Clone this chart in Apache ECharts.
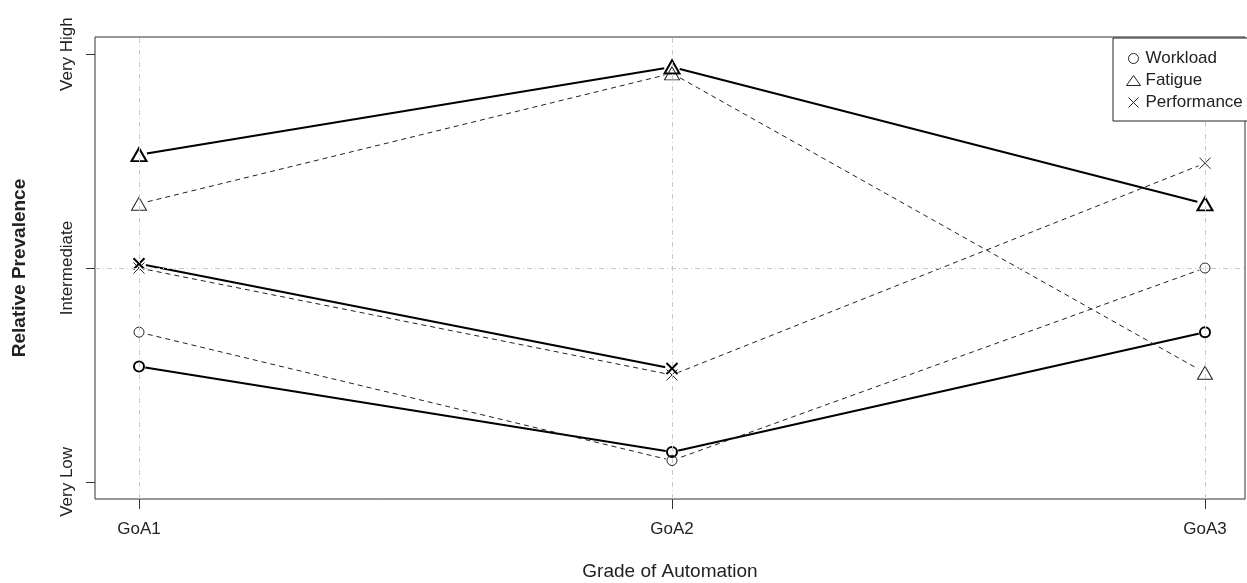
<!DOCTYPE html>
<html>
<head>
<meta charset="utf-8">
<script src="https://cdn.jsdelivr.net/npm/echarts@6/dist/echarts.min.js"></script>
<style>html,body{margin:0;padding:0;background:#fff}#c{width:1247px;height:583px}</style>
</head>
<body>
<div id="c"></div>
<script>
// ---- data ----
const categories = ['GoA1', 'GoA2', 'GoA3'];
const categoryPositions = [1, 2, 3];
const levelValues = [1, 2, 3];
const levelLabels = ['Very Low', 'Intermediate', 'Very High'];
const legendNames = ['Workload', 'Fatigue', 'Performance'];

// thick solid lines
const workloadSolid = [1.54, 1.14, 1.70];
const fatigueSolid = [2.53, 2.94, 2.30];
const performanceSolid = [2.02, 1.53, null];
// thin dashed lines
const workloadDashed = [1.70, 1.10, 2.00];
const fatigueDashed = [2.30, 2.91, 1.51];
const performanceDashed = [2.00, 1.50, 2.49];

// ---- styling ----
const FONT = 'Arial, "Liberation Sans", sans-serif';
const XPATH = 'path://M0,0L10,10M0,10L10,0';
const shapes = { Workload: 'circle', Fatigue: 'triangle', Performance: XPATH };
const sizes = { Workload: 10, Fatigue: [15, 13], Performance: 11 };
const maskSizes = { Workload: 13, Fatigue: 16, Performance: 14 };

const toPoints = arr => arr.map((v, i) => [categoryPositions[i], v == null ? '-' : v]);
const toScatter = arr => arr.map((v, i) => [categoryPositions[i], v]).filter(p => p[1] != null);

const defs = [
  { name: 'Workload', solid: true, values: workloadSolid },
  { name: 'Fatigue', solid: true, values: fatigueSolid },
  { name: 'Performance', solid: true, values: performanceSolid },
  { name: 'Workload', solid: false, values: workloadDashed },
  { name: 'Fatigue', solid: false, values: fatigueDashed },
  { name: 'Performance', solid: false, values: performanceDashed }
];

const series = [];
// grid reference lines
series.push({
  type: 'line', name: 'grid', data: [], z: 1, silent: true, animation: false,
  markLine: {
    silent: true, symbol: 'none', animation: false,
    label: { show: false },
    lineStyle: { color: '#cacaca', width: 1, type: [5, 3, 1, 3] },
    data: categoryPositions.map(x => ({ xAxis: x })).concat([{ yAxis: levelValues[1] }])
  }
});
defs.forEach(d => {
  const col = d.solid ? '#000' : '#222';
  const nm = d.solid ? d.name + ' ' : d.name;
  series.push({
    type: 'line', name: nm, data: toPoints(d.values), z: 2, silent: true, animation: false,
    symbol: 'circle', symbolSize: maskSizes[d.name], showSymbol: true,
    itemStyle: { color: '#fff', borderWidth: 0 },
    lineStyle: { color: col, width: d.solid ? 2 : 1, type: d.solid ? 'solid' : [5, 4] },
    emphasis: { disabled: true }
  });
  series.push({
    type: 'scatter', name: nm, data: toScatter(d.values), z: 4, silent: true, animation: false,
    symbol: shapes[d.name], symbolSize: sizes[d.name],
    itemStyle: { color: 'rgba(0,0,0,0)', borderColor: col, borderWidth: d.solid ? 2 : 1, opacity: 1 },
    emphasis: { disabled: true }
  });
});

const chart = echarts.init(document.getElementById('c'), null, { renderer: 'canvas' });
chart.setOption({
  animation: false,
  backgroundColor: '#fff',
  grid: { left: 95, right: 2, top: 37, bottom: 84, show: true, borderColor: '#333', borderWidth: 1, backgroundColor: 'transparent', containLabel: false, outerBoundsMode: 'none' },
  xAxis: {
    type: 'value', min: 0.91745, max: 3.07505,
    name: 'Grade of Automation', nameLocation: 'middle', nameGap: 63,
    nameTextStyle: { fontFamily: FONT, fontSize: 19, color: '#222' },
    axisLine: { show: false },
    axisTick: { show: true, length: 10, lineStyle: { color: '#333' }, customValues: categoryPositions },
    axisLabel: { customValues: categoryPositions, margin: 22, fontFamily: FONT, fontSize: 17, color: '#222',
      formatter: v => categories[categoryPositions.indexOf(Math.round(v))] || '' },
    splitLine: { show: false }
  },
  yAxis: {
    type: 'value', min: 0.92, max: 3.08,
    name: 'Relative Prevalence', nameLocation: 'middle', nameGap: 66, nameRotate: 90,
    nameTextStyle: { fontFamily: FONT, fontSize: 19, fontWeight: 'bold', color: '#222' },
    axisLine: { show: false },
    axisTick: { show: true, length: 9, lineStyle: { color: '#333' }, customValues: levelValues },
    axisLabel: { customValues: levelValues, rotate: 90, margin: 19, fontFamily: FONT, fontSize: 17, color: '#222',
      formatter: v => levelLabels[levelValues.indexOf(Math.round(v))] || '' },
    splitLine: { show: false }
  },
  legend: {
    show: true, orient: 'vertical', left: 1113, top: 38, width: 220, z: 20,
    backgroundColor: '#fff', borderColor: '#222', borderWidth: 1, borderRadius: 0,
    padding: [12, 80, 10, 13], itemWidth: 14, itemHeight: 10, itemGap: 5,
    selectedMode: false,
    textStyle: { fontFamily: FONT, fontSize: 17, color: '#222' },
    itemStyle: { color: 'rgba(0,0,0,0)', borderColor: '#222', borderWidth: 1 },
    data: legendNames.map(n => ({ name: n, icon: shapes[n] }))
  },
  tooltip: { show: false },
  series: series
});
</script>
</body>
</html>
